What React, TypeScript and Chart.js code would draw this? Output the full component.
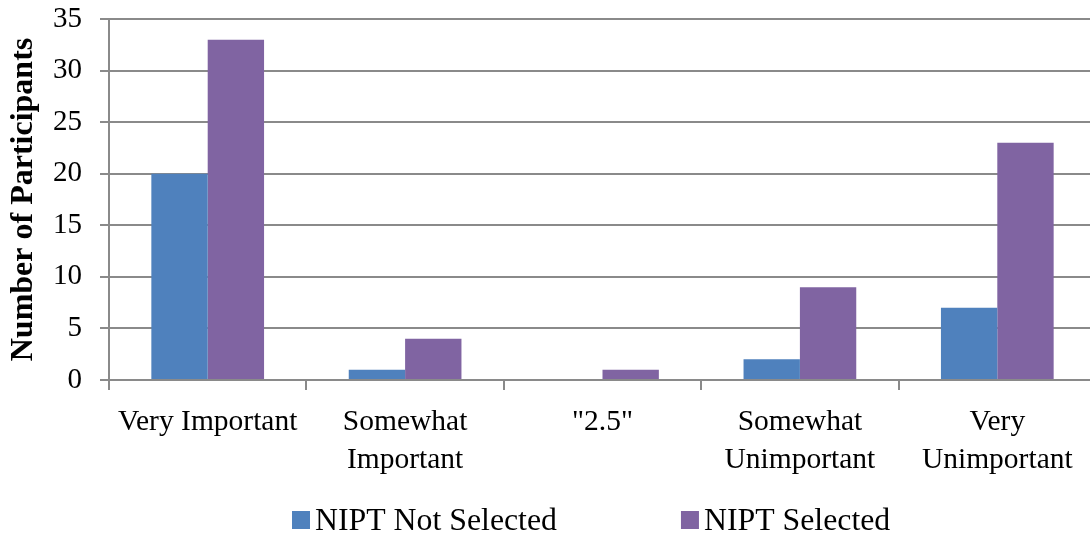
import { useEffect, useRef } from "react";
import { Chart, registerables } from "chart.js";

Chart.register(...registerables);

const categories: string[][] = [
  ["Very Important"],
  ["Somewhat", "Important"],
  ['"2.5"'],
  ["Somewhat", "Unimportant"],
  ["Very", "Unimportant"],
];
const seriesNames = ["NIPT Not Selected", "NIPT Selected"];
const notSelected = [20, 1, 0, 2, 7];
const selected = [33, 4, 1, 9, 23];
const yMin = 0;
const yMax = 35;
const yStep = 5;
const yTitle = "Number of Participants";

const FONT = "'Liberation Serif', 'Times New Roman', serif";
const GRID = "#8a8a8a";
const COLORS = ["#4F81BD", "#8064A2"];

const legendPlugin = {
  id: "bottomLegend",
  afterDraw(chart: any) {
    const ctx = chart.ctx as CanvasRenderingContext2D;
    ctx.save();
    ctx.font = `31.8px ${FONT}`;
    ctx.textBaseline = "alphabetic";
    ctx.textAlign = "left";
    let x = 292;
    const base = 530;
    chart.data.datasets.forEach((ds: any) => {
      ctx.fillStyle = ds.backgroundColor;
      ctx.fillRect(x, 511, 18, 18);
      ctx.fillStyle = "#000";
      ctx.fillText(ds.label, x + 23, base);
      x += 23 + ctx.measureText(ds.label).width + 124;
    });
    ctx.restore();
  },
};

export default function App() {
  const ref = useRef<HTMLCanvasElement | null>(null);

  useEffect(() => {
    if (!ref.current) return;
    const chart = new Chart(ref.current, {
      type: "bar",
      data: {
        labels: categories,
        datasets: [
          {
            label: seriesNames[0],
            data: notSelected,
            backgroundColor: COLORS[0],
            borderWidth: 0,
            barPercentage: 1,
            categoryPercentage: 0.571,
          },
          {
            label: seriesNames[1],
            data: selected,
            backgroundColor: COLORS[1],
            borderWidth: 0,
            barPercentage: 1,
            categoryPercentage: 0.571,
          },
        ],
      },
      options: {
        responsive: false,
        devicePixelRatio: 1,
        animation: false,
        layout: { padding: { top: 0, right: 4, bottom: 0, left: 0 } },
        plugins: {
          legend: { display: false },
          tooltip: { enabled: false },
          title: { display: false },
        },
        scales: {
          x: {
            type: "category",
            offset: true,
            grid: {
              display: true,
              drawOnChartArea: false,
              drawTicks: true,
              tickLength: 10,
              offset: true,
              color: GRID,
              lineWidth: 2,
            },
            border: { display: true, color: GRID, width: 2 },
            ticks: {
              color: "#000",
              font: { family: FONT, size: 29.5, lineHeight: 1.3 },
              padding: 13,
              maxRotation: 0,
              minRotation: 0,
              autoSkip: false,
            },
            afterFit: (scale: any) => {
              scale.height = 156;
            },
          },
          y: {
            min: yMin,
            max: yMax,
            grid: {
              color: GRID,
              lineWidth: 2,
              drawTicks: true,
              tickLength: 9,
            },
            border: { display: true, color: GRID, width: 2 },
            ticks: {
              stepSize: yStep,
              color: "#000",
              font: { family: FONT, size: 29 },
              padding: 18,
            },
            title: {
              display: true,
              text: yTitle,
              color: "#000",
              font: { family: FONT, size: 32, weight: "bold" },
              padding: { top: 5, bottom: 0 },
            },
            afterFit: (scale: any) => {
              scale.width = 109;
              scale.paddingTop = 19;
              scale.paddingBottom = 17;
            },
          },
        },
      },
      plugins: [legendPlugin],
    });
    return () => chart.destroy();
  }, []);

  return (
    <div
      style={{
        position: "fixed",
        left: 0,
        top: 0,
        width: 1090,
        height: 536,
        overflow: "hidden",
        background: "#fff",
      }}
    >
      <canvas ref={ref} width={1100} height={536} style={{ display: "block" }} />
    </div>
  );
}
